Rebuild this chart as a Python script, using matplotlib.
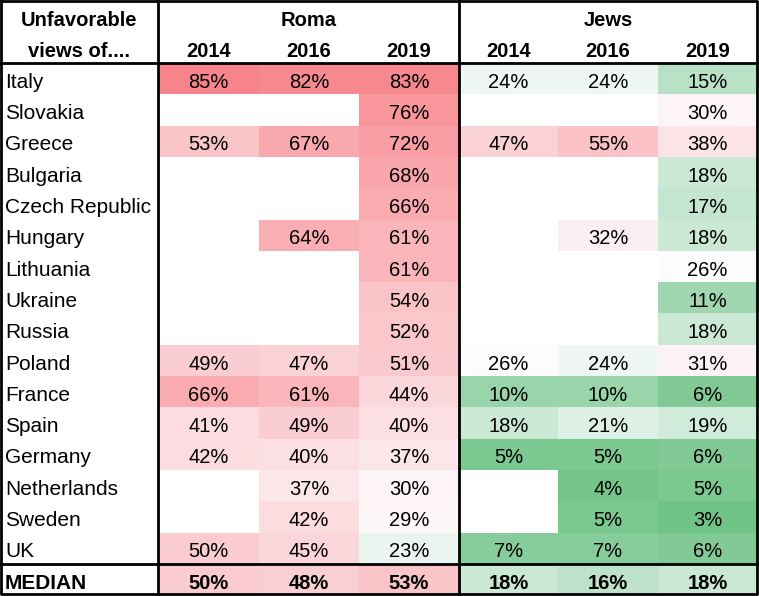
import numpy as np
import matplotlib
matplotlib.use('Agg')
import matplotlib.pyplot as plt
from matplotlib.colors import LinearSegmentedColormap, TwoSlopeNorm

countries = ['Italy', 'Slovakia', 'Greece', 'Bulgaria', 'Czech Republic', 'Hungary',
             'Lithuania', 'Ukraine', 'Russia', 'Poland', 'France', 'Spain', 'Germany',
             'Netherlands', 'Sweden', 'UK']
years = ['2014', '2016', '2019']
nan = np.nan
roma_2014 = [85, nan, 53, nan, nan, nan, nan, nan, nan, 49, 66, 41, 42, nan, nan, 50]
roma_2016 = [82, nan, 67, nan, nan, 64, nan, nan, nan, 47, 61, 49, 40, 37, 42, 45]
roma_2019 = [83, 76, 72, 68, 66, 61, 61, 54, 52, 51, 44, 40, 37, 30, 29, 23]
jews_2014 = [24, nan, 47, nan, nan, nan, nan, nan, nan, 26, 10, 18, 5, nan, nan, 7]
jews_2016 = [24, nan, 55, nan, nan, 32, nan, nan, nan, 24, 10, 21, 5, 4, 5, 7]
jews_2019 = [15, 30, 38, 18, 17, 18, 26, 11, 18, 31, 6, 19, 6, 5, 3, 6]
median_row = [50, 48, 53, 18, 16, 18]

font = 'Liberation Sans'

W, H = 759, 596
fig = plt.figure(figsize=(W / 100, H / 100), dpi=100)
ax = fig.add_axes([0, 0, 1, 1])
ax.set_xlim(0, W)
ax.set_ylim(H, 0)
ax.axis('off')

# layout in pixels
x_edges = np.array([158, 259, 359, 459, 558, 658, 757])
head_h = 63
row_h = 31.3
n = len(countries)
y_edges = head_h + row_h * np.arange(n + 2)

data = np.array([roma_2014, roma_2016, roma_2019, jews_2014, jews_2016, jews_2019],
                dtype=float).T
data = np.vstack([data, np.array(median_row, dtype=float)])
masked = np.ma.masked_invalid(data)

# 3-colour scale: green (low) - white (mid) - red (high)
cmap = LinearSegmentedColormap.from_list('rg', ['#6FC386', '#FCFCFF', '#F7848A'])
cmap.set_bad('white')
norm = TwoSlopeNorm(vmin=3, vcenter=26, vmax=85)
ax.pcolormesh(x_edges, y_edges, masked, cmap=cmap, norm=norm, shading='flat')

fs = 14.5
fs_lab = 15
xc = (x_edges[:-1] + x_edges[1:]) / 2
base = y_edges[1:] - 6.5

# header
ax.text(79, 26, 'Unfavorable', ha='center', va='baseline', fontsize=fs,
        fontweight='bold', family=font)
ax.text(79, 57, 'views of....', ha='center', va='baseline', fontsize=fs,
        fontweight='bold', family=font)
ax.text(xc[1], 26, 'Roma', ha='center', va='baseline', fontsize=fs,
        fontweight='bold', family=font)
ax.text(xc[4], 26, 'Jews', ha='center', va='baseline', fontsize=fs,
        fontweight='bold', family=font)
for j in range(6):
    ax.text(xc[j], 57, years[j % 3], ha='center', va='baseline', fontsize=fs,
            fontweight='bold', family=font)

labels = countries + ['MEDIAN']
for i, lab in enumerate(labels):
    bold = lab == 'MEDIAN'
    ax.text(5, base[i], lab, ha='left', va='baseline', fontsize=fs_lab,
            fontweight='bold' if bold else 'normal', family=font)
    for j in range(6):
        v = data[i, j]
        if np.isnan(v):
            continue
        ax.text(xc[j], base[i], f'{int(v)}%', ha='center', va='baseline', fontsize=fs,
                fontweight='bold' if bold else 'normal', family=font)

# borders
lw = 2
ax.plot([1, W - 2, W - 2, 1, 1], [1, 1, H - 2, H - 2, 1], color='black', lw=lw)
ax.plot([158, 158], [0, H], color='black', lw=lw)
ax.plot([459, 459], [0, H], color='black', lw=lw)
ax.plot([0, W], [head_h, head_h], color='black', lw=lw)
ax.plot([0, W], [y_edges[-2], y_edges[-2]], color='black', lw=lw)

fig.savefig('out.png', dpi=100)
